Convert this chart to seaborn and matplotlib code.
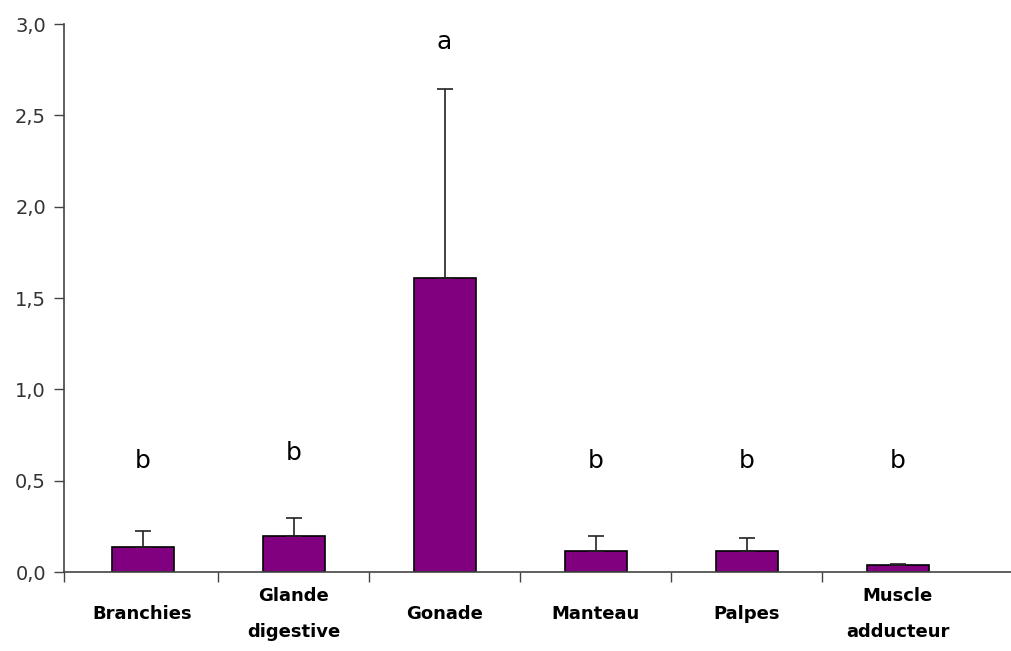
import matplotlib
matplotlib.use('Agg')
import matplotlib.pyplot as plt
import seaborn as sns
import numpy as np
import pandas as pd
from matplotlib.ticker import FixedLocator, FuncFormatter

# Data
organes = ['Branchies', 'Glande\ndigestive', 'Gonade', 'Manteau', 'Palpes', 'Muscle\nadducteur']
moyennes = [0.137, 0.197, 1.609, 0.115, 0.115, 0.038]
erreurs = [0.087, 0.099, 1.035, 0.082, 0.071, 0.006]
lettres = ['b', 'b', 'a', 'b', 'b', 'b']
pos_lettres = [0.61, 0.65, 2.90, 0.61, 0.61, 0.61]

PURPLE = '#800080'

sns.set_style('white')
plt.rcParams['font.family'] = ['DejaVu Sans']

df = pd.DataFrame({'organe': organes, 'valeur': moyennes})

fig = plt.figure(figsize=(10.11, 6.51), dpi=100)
ax = fig.add_axes([64 / 1011, 79 / 651, 1 - 64 / 1011, 548 / 651])

sns.barplot(data=df, x='organe', y='valeur', color=PURPLE, saturation=1,
            width=0.41, edgecolor='black', linewidth=1.2, errorbar=None, ax=ax)

x = np.arange(len(organes))
ax.errorbar(x, moyennes, yerr=[np.zeros(len(erreurs)), erreurs], fmt='none',
            ecolor='#222222', elinewidth=1.2, capsize=6, capthick=1.2)

for xi, txt, yl in zip(x, lettres, pos_lettres):
    ax.text(xi, yl, txt, ha='center', va='center', fontsize=18, color='black')

ax.set_xlim(-0.52, 5.75)
ax.set_ylim(0, 3.0)
ax.set_yticks(np.arange(0, 3.01, 0.5))
ax.yaxis.set_major_formatter(FuncFormatter(lambda v, p: f'{v:.1f}'.replace('.', ',')))
ax.tick_params(axis='y', direction='out', length=7, width=1, colors='#444444',
               labelsize=14, labelcolor='#333333', pad=6, left=True)

# category boundaries as ticks, labels at the centres
ax.xaxis.set_major_locator(FixedLocator([-0.52, 0.5, 1.5, 2.5, 3.5, 4.5]))
ax.xaxis.set_major_formatter(FuncFormatter(lambda v, p: ''))
ax.xaxis.set_minor_locator(FixedLocator(list(x)))
ax.set_xticklabels(organes, minor=True, fontsize=13, fontweight='bold', linespacing=2.3)
ax.tick_params(axis='x', which='major', direction='out', length=7, width=1,
               colors='#444444', bottom=True)
ax.tick_params(axis='x', which='minor', length=0, pad=30, labelcolor='black')
for lab in ax.get_xticklabels(minor=True):
    lab.set_va('center')

ax.set_xlabel('')
ax.set_ylabel('')
for s in ['top', 'right']:
    ax.spines[s].set_visible(False)
for s in ['left', 'bottom']:
    ax.spines[s].set_color('#444444')
    ax.spines[s].set_linewidth(1.2)

fig.savefig('out.png', dpi=100)
